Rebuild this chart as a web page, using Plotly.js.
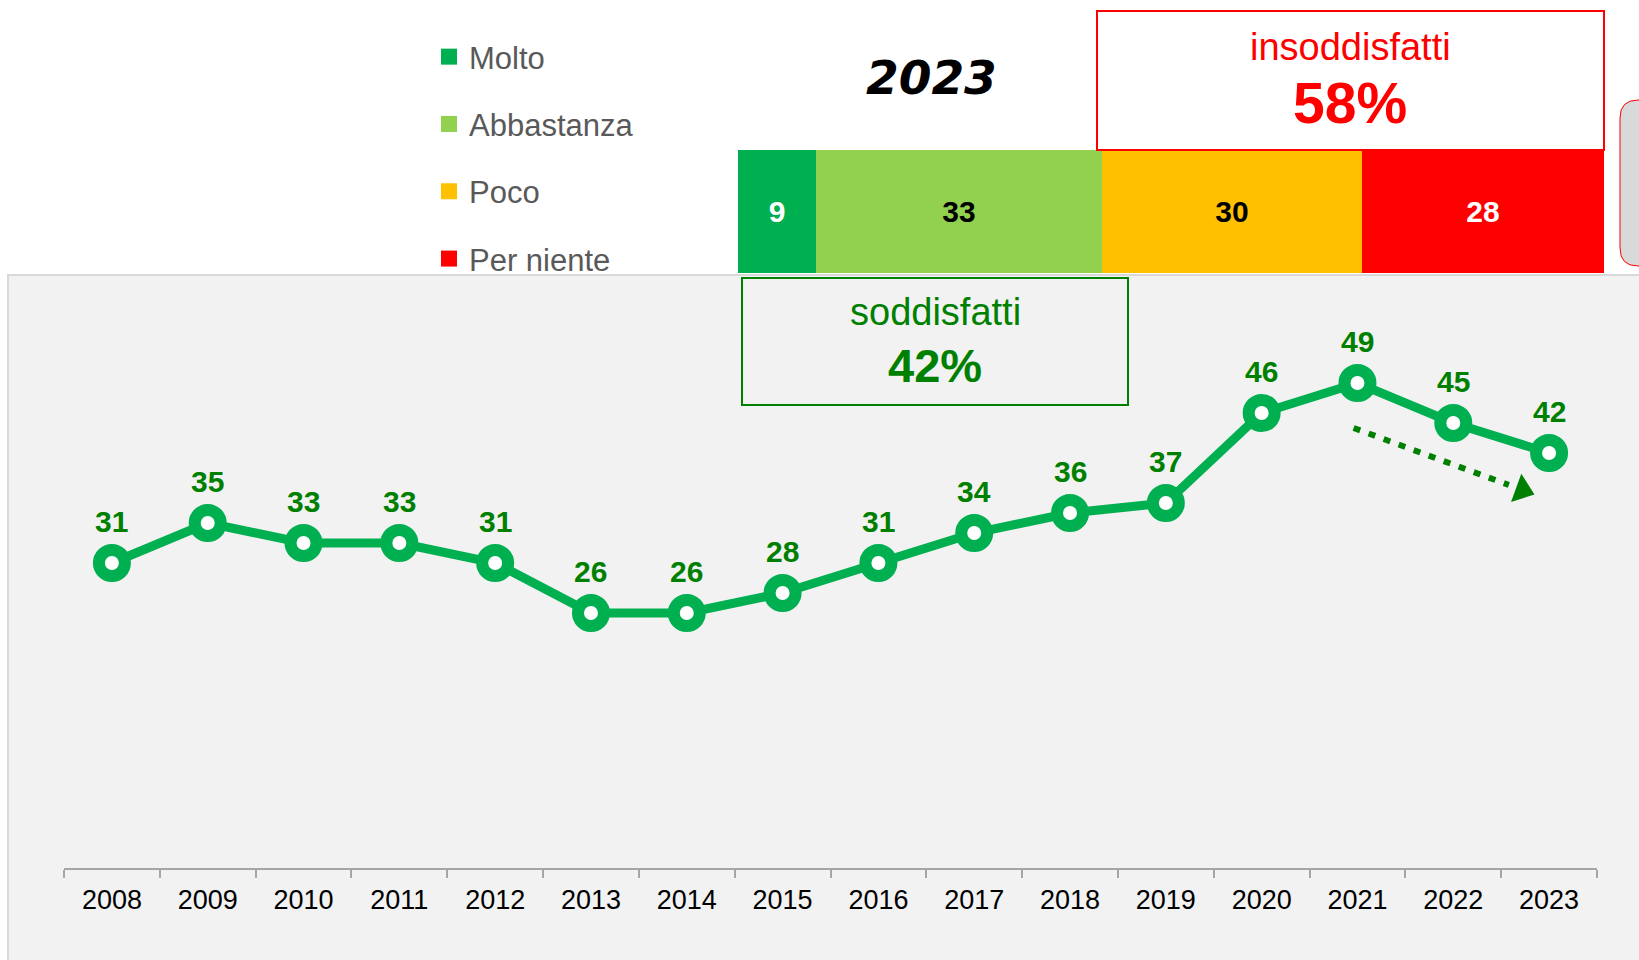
<!DOCTYPE html>
<html>
<head>
<meta charset="utf-8">
<script src="https://cdn.plot.ly/plotly-3.0.1.min.js"></script>
<style>
  html, body { margin: 0; padding: 0; background: #ffffff; }
  #chart { width: 1639px; height: 960px; }
</style>
</head>
<body>
<div id="chart"></div>
<script>
// Soddisfazione – serie storica (% molto + abbastanza)
const years = ["2008", "2009", "2010", "2011", "2012", "2013", "2014", "2015",
               "2016", "2017", "2018", "2019", "2020", "2021", "2022", "2023"];
const satisfied = [31, 35, 33, 33, 31, 26, 26, 28, 31, 34, 36, 37, 46, 49, 45, 42];

// 2023 breakdown
const levels = ["Molto", "Abbastanza", "Poco", "Per niente"];
const shares2023 = [9, 33, 30, 28];
const levelColors = ["#00b050", "#92d050", "#ffc000", "#ff0000"];
const levelTextColors = ["#ffffff", "#000000", "#000000", "#ffffff"];

// trend arrow (category index, value) : start, head
const trendX = [12.96, 14.72];
const trendY = [44.5, 38.3];

const FONT = "Liberation Sans, Arial, sans-serif";
const DARK_GREEN = "#008000";
const LINE_GREEN = "#00b050";

// paper helpers: pixel -> paper (plot area 64..1604 x 10..868)
const L = 64, R = 35, T = 10, B = 92, W = 1639, H = 960;
const PW = W - L - R, PH = H - T - B;
const px = x => (x - L) / PW;
const py = y => (H - B - y) / PH;

const satisfiedTot = shares2023[0] + shares2023[1];
const unsatisfiedTot = shares2023[2] + shares2023[3];

// stacked bar traces
const barTraces = levels.map((name, i) => ({
  type: "bar",
  orientation: "h",
  name: name,
  showlegend: false,
  x: [shares2023[i]],
  y: ["2023"],
  width: 1,
  xaxis: "x2",
  yaxis: "y2",
  marker: { color: levelColors[i], line: { width: 0 } },
  text: [String(shares2023[i])],
  textposition: "inside",
  insidetextanchor: "middle",
  textangle: 0,
  textfont: { family: FONT, size: 30, weight: "bold", color: levelTextColors[i] },
  hoverinfo: "x+name"
}));

// legend entries (square keys)
const legendTraces = levels.map((name, i) => ({
  type: "scatter",
  mode: "markers",
  name: name,
  legendgroup: name,
  x: [null],
  y: [null],
  xaxis: "x2",
  yaxis: "y2",
  marker: { symbol: "square", size: 16, color: levelColors[i] },
  hoverinfo: "skip"
}));

const lineTrace = {
  type: "scatter",
  mode: "lines+markers",
  x: years,
  y: satisfied,
  showlegend: false,
  line: { color: LINE_GREEN, width: 9 },
  marker: { size: 26, color: "#ffffff", line: { color: LINE_GREEN, width: 12 } },
  cliponaxis: false,
  hoverinfo: "x+y"
};

const arrowShaft = {
  type: "scatter",
  mode: "lines",
  x: [trendX[0], trendX[1] - 0.14],
  y: [trendY[0], trendY[1] + 0.5],
  xaxis: "x3",
  showlegend: false,
  line: { color: DARK_GREEN, width: 6, dash: "7px,9px" },
  hoverinfo: "skip"
};

const arrowHead = {
  type: "scatter",
  mode: "markers",
  x: [trendX[1]],
  y: [trendY[1]],
  xaxis: "x3",
  showlegend: false,
  marker: { symbol: "triangle-right", size: 26, angle: 20, color: DARK_GREEN },
  hoverinfo: "skip"
};

// value labels above points (x = category index)
const valueLabels = years.map((yr, i) => ({
  x: i, y: satisfied[i], xref: "x", yref: "y",
  xanchor: "center", yanchor: "middle",
  yshift: 42, showarrow: false,
  text: String(satisfied[i]),
  font: { family: FONT, size: 30, weight: "bold", color: DARK_GREEN }
}));

const boxLabels = [
  { x: px(1350), y: py(47), text: "insoddisfatti",
    font: { family: FONT, size: 38, color: "#ff0000" } },
  { x: px(1350), y: py(103), text: "<b>" + unsatisfiedTot + "%</b>",
    font: { family: FONT, size: 57, color: "#ff0000" } },
  { x: px(935), y: py(312), text: "soddisfatti",
    font: { family: FONT, size: 38, color: DARK_GREEN } },
  { x: px(935), y: py(365), text: "<b>" + satisfiedTot + "%</b>",
    font: { family: FONT, size: 47, color: DARK_GREEN } },
  { x: px(931), y: py(78), text: "<b><i>2023</i></b>",
    font: { family: "DejaVu Sans, sans-serif", size: 47, color: "#000000" } }
].map(a => Object.assign({ xref: "paper", yref: "paper", showarrow: false,
  xanchor: "center", yanchor: "middle" }, a));

// rounded grey tab at the right edge
const gx0 = px(1620), gx1 = px(1700), gyt = py(100), gyb = py(266);
const rx = 18 / PW, ry = 18 / PH;
const tabPath = `M${gx0 + rx},${gyt} L${gx1},${gyt} L${gx1},${gyb} L${gx0 + rx},${gyb} ` +
  `Q${gx0},${gyb} ${gx0},${gyb + ry} L${gx0},${gyt - ry} Q${gx0},${gyt} ${gx0 + rx},${gyt} Z`;

const shapes = [
  // grey panel behind the line chart
  { type: "rect", xref: "paper", yref: "paper", layer: "below",
    x0: px(8), x1: px(1700), y0: py(1000), y1: py(275),
    fillcolor: "#f2f2f2", line: { color: "#d9d9d9", width: 2 } },
  // insoddisfatti box
  { type: "rect", xref: "paper", yref: "paper",
    x0: px(1097), x1: px(1604), y0: py(150), y1: py(11),
    fillcolor: "rgba(0,0,0,0)", line: { color: "#ff0000", width: 2 } },
  // soddisfatti box
  { type: "rect", xref: "paper", yref: "paper",
    x0: px(742), x1: px(1128), y0: py(405), y1: py(278),
    fillcolor: "rgba(0,0,0,0)", line: { color: DARK_GREEN, width: 2 } },
  { type: "path", xref: "paper", yref: "paper", path: tabPath,
    fillcolor: "#d9d9d9", line: { color: "#ff0000", width: 1 } }
];

const lineDomainX = [0, (1597 - L) / PW];

const layout = {
  width: W,
  height: H,
  margin: { l: L, r: R, t: T, b: B },
  paper_bgcolor: "#ffffff",
  plot_bgcolor: "rgba(0,0,0,0)",
  font: { family: FONT },
  showlegend: true,
  barmode: "stack",
  bargap: 0,
  hovermode: "closest",
  legend: {
    x: px(429), y: py(30), xanchor: "left", yanchor: "top",
    orientation: "v",
    traceorder: "grouped",
    tracegroupgap: 24,
    bgcolor: "rgba(0,0,0,0)",
    font: { family: FONT, size: 31, color: "#595959" }
  },
  xaxis: {
    type: "category",
    domain: lineDomainX,
    range: [-0.5, years.length - 0.5],
    anchor: "y",
    showgrid: false,
    zeroline: false,
    showline: true,
    linecolor: "#a6a6a6",
    linewidth: 2,
    ticks: "outside",
    tickson: "boundaries",
    ticklen: 8,
    tickcolor: "#a6a6a6",
    tickwidth: 1.5,
    ticklabelstandoff: 7,
    tickfont: { family: FONT, size: 27, color: "#000000" }
  },
  xaxis3: {
    overlaying: "x",
    domain: lineDomainX,
    range: [-0.5, years.length - 0.5],
    anchor: "y",
    visible: false
  },
  yaxis: {
    domain: [0, py(283)],
    range: [0.5, 59],
    visible: false,
    showgrid: false,
    zeroline: false
  },
  xaxis2: {
    domain: [px(738), px(1604)],
    range: [0, 100],
    anchor: "y2",
    visible: false
  },
  yaxis2: {
    type: "category",
    domain: [py(273), py(150)],
    range: [-0.5, 0.5],
    anchor: "x2",
    visible: false
  },
  shapes: shapes,
  annotations: valueLabels.concat(boxLabels)
};

Plotly.newPlot("chart", barTraces.concat(legendTraces, [lineTrace, arrowShaft, arrowHead]), layout,
  { displayModeBar: false, responsive: false });
</script>
</body>
</html>
